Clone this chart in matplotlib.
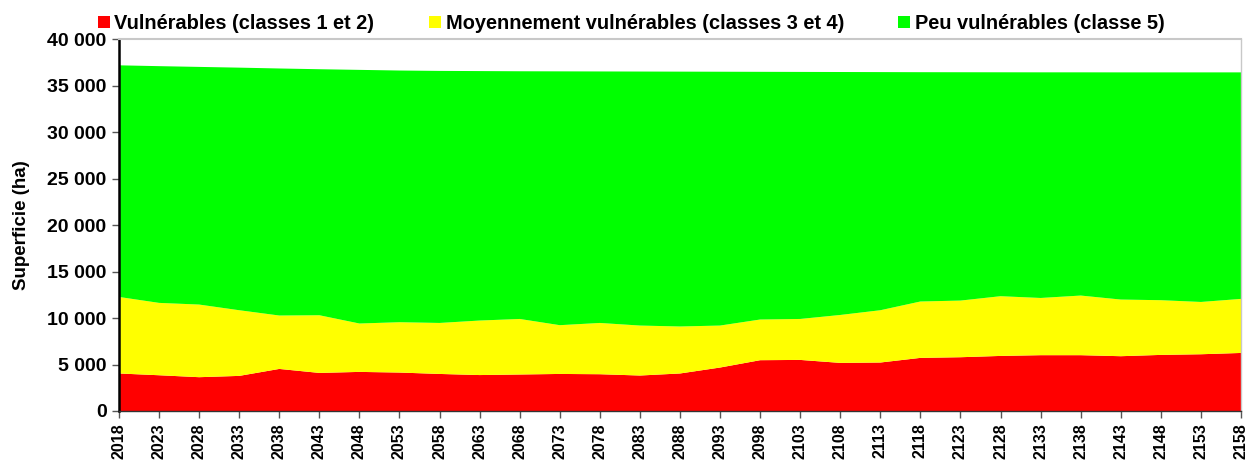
import numpy as np
import matplotlib.pyplot as plt
from matplotlib.patches import Patch
from matplotlib.ticker import FuncFormatter

plt.rcParams['font.family'] = ['Liberation Sans', 'DejaVu Sans']
plt.rcParams['font.weight'] = 'bold'

# annees de projection
annees = list(range(2018, 2159, 5))

# superficie par classe de vulnerabilite (ha)
vulnerables = [4040, 3850, 3640, 3780, 4530, 4100, 4210, 4140, 3990, 3870,
               3930, 3990, 3960, 3820, 4040, 4680, 5470, 5500, 5180, 5220,
               5720, 5790, 5930, 6010, 6010, 5900, 6040, 6110, 6250]
moyens = [8240, 7790, 7820, 7070, 5750, 6210, 5210, 5420, 5490, 5870,
          5980, 5250, 5520, 5380, 5060, 4520, 4380, 4410, 5160, 5630,
          6070, 6100, 6430, 6160, 6420, 6100, 5890, 5630, 5820]
peu_vulnerables = [24940, 25490, 25590, 26120, 26600, 26490, 27310, 27100, 27140, 26860,
                   26670, 27330, 27080, 27350, 27440, 27330, 26670, 26600, 26160, 25640,
                   24690, 24585, 24110, 24295, 24035, 24460, 24530, 24720, 24390]

noms = ['Vulnérables (classes 1 et 2)',
        'Moyennement vulnérables (classes 3 et 4)',
        'Peu vulnérables (classe 5)']
couleurs = ['#ff0000', '#ffff00', '#00ff00']

fig = plt.figure(figsize=(12.5, 4.68), dpi=100)
ax = fig.add_axes([0.0952, 0.1218, 0.8976, 0.7938])

ax.stackplot(annees, vulnerables, moyens, peu_vulnerables, colors=couleurs, linewidth=0)

ax.set_xlim(2018, 2158)
ax.set_ylim(0, 40000)
ax.set_xticks(annees)
ax.set_xticklabels([str(a) for a in annees], rotation=90, fontsize=11.5, fontweight='bold')
ax.set_yticks(range(0, 40001, 5000))
ax.yaxis.set_major_formatter(FuncFormatter(lambda v, p: f'{int(v):,}'.replace(',', ' ')))
for lab in ax.get_yticklabels():
    lab.set_fontsize(14)
    lab.set_fontweight('bold')
ax.set_ylabel('Superficie (ha)', fontsize=13.5, fontweight='bold', labelpad=12)

ax.spines['left'].set_linewidth(1.8)
ax.spines['left'].set_color('black')
ax.spines['bottom'].set_linewidth(1.0)
ax.spines['bottom'].set_color('#333333')
ax.spines['top'].set_color('#c8c8c8')
ax.spines['right'].set_color('#c8c8c8')
ax.spines['top'].set_linewidth(1.5)
ax.spines['right'].set_linewidth(1.0)
ax.tick_params(axis='both', direction='out', length=5, width=1, color='#555555', pad=4)

handles = [Patch(facecolor=c, edgecolor='none') for c in couleurs]
fig.legend(handles, noms, loc='center left', bbox_to_anchor=(0.0636, 0.950), ncol=3,
           frameon=False, handlelength=0.6, handleheight=0.6,
           handletextpad=0.25, columnspacing=2.7, prop={'weight': 'bold', 'size': 14.4})

fig.savefig('out.png', dpi=100)
